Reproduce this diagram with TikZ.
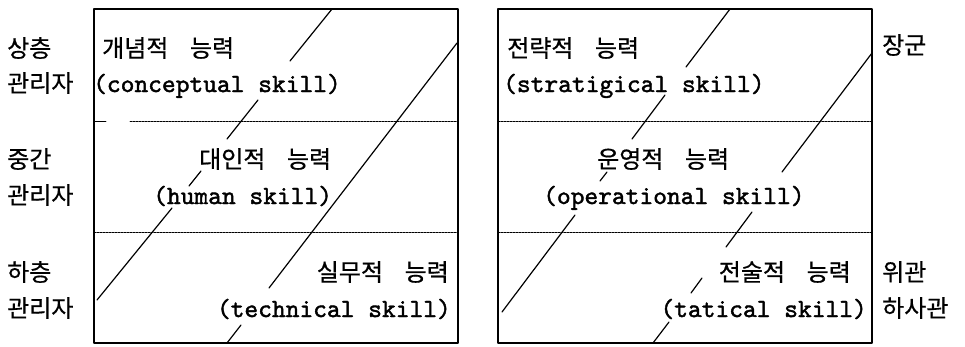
\documentclass[tikz,border=0pt]{standalone}
\usepackage{fontspec}
\newfontfamily\kofont[FakeBold=0.6]{Noto Sans CJK KR}
\newfontfamily\enfont[Extension=.otf, FakeBold=1.6]{lmmono10-regular}
\newcommand{\wsp}{\hspace{0.9em}}
\tikzset{
  ko/.style={font=\kofont\fontsize{24}{28}\selectfont, inner sep=0pt, anchor=base west},
  en/.style={font=\enfont\fontsize{26.2}{28}\selectfont, inner sep=0pt, anchor=base west},
  level/.style={dash pattern=on 2pt off 1pt, line width=0.6pt},
  skill/.style={line width=1.2pt},
  frame/.style={line width=1.1pt},
}
\begin{document}
\begin{tikzpicture}[x=1pt, y=-1pt, line cap=round, line join=round]
\useasboundingbox (0,0) rectangle (965,346);
\draw[frame] (94,9) rectangle (458,343);
\draw[frame] (498,9) rectangle (872,343);
\draw[level] (130,121) -- (458,121);
\draw[line width=0.8pt] (94,121) -- (106,121);
\draw[level] (94,232) -- (458,232);
\draw[level] (498,121) -- (872,121);
\draw[level] (498,232) -- (872,232);

\draw[skill] (332,9) -- (290,61) (258,100) -- (227,139) (201,171) -- (189,186) (172,208) -- (97,300);
\draw[skill] (457,43) -- (269,288) (241,325) -- (227,343);
\draw[skill] (730,9) -- (686,67) (665,95) -- (632,139) (607,172) -- (600,181) (575,215) -- (502,312);
\draw[skill] (872,53) -- (782,172) (752,212) -- (726,247) (702,278) -- (691,293) (669,322) -- (653,343);

\node[ko] (top1) at (7,57) {상층};
\node[ko] (top2) at (7,92) {관리자};
\node[ko] (mid1) at (7,168) {중간};
\node[ko] (mid2) at (7,204) {관리자};
\node[ko] (low1) at (7,281) {하층};
\node[ko] (low2) at (7,317) {관리자};

\node[ko] (concept) at (102,57) {개념적\wsp 능력};
\node[en] (conceptE) at (93,92) {(conceptual skill)};
\node[ko] (human) at (199,168) {대인적\wsp 능력};
\node[en] (humanE) at (153,204) {(human skill)};
\node[ko, anchor=base east] (tech) at (449,281) {실무적\wsp 능력};
\node[en, anchor=base east] (techE) at (451,317) {(technical skill)};

\node[ko] (strat) at (507,57) {전략적\wsp 능력};
\node[en] (stratE) at (503,92) {(stratigical skill)};
\node[ko] (oper) at (597,168) {운영적\wsp 능력};
\node[en] (operE) at (543,204) {(operational skill)};
\node[ko, anchor=base east] (tact) at (851,281) {전술적\wsp 능력};
\node[en, anchor=base east] (tactE) at (867,317) {(tatical skill)};

\node[ko] (gen) at (882,54) {장군};
\node[ko] (off) at (882,281) {위관};
\node[ko] (nco) at (882,317) {하사관};
\end{tikzpicture}
\end{document}
